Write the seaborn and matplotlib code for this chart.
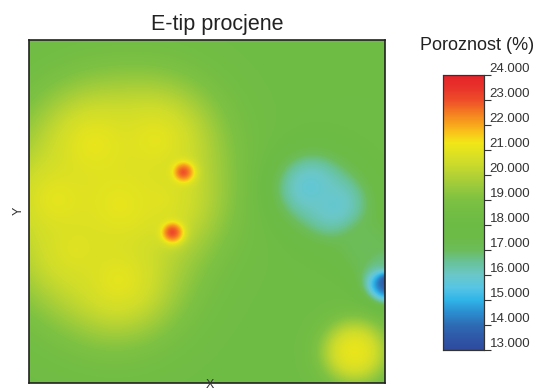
import numpy as np
import pandas as pd
import matplotlib
matplotlib.use("Agg")
import matplotlib.pyplot as plt
import seaborn as sns
from matplotlib.colors import LinearSegmentedColormap

# ---- data: sample wells (x, y in 0..100 map units), porosity %, influence range
well_x = [18.5, 35.4, 7.9, 25.6, 25.0, 12.9, 36.8,   # yellow cluster
          43.3, 40.2,                                # red highs
          79.2, 85.7, 94.4, 100.0,                   # cyan low + tail
          100.8,                                     # blue low at east edge
          91.6]                                      # SE high
well_y = [69.4, 70.8, 53.4, 51.9, 30.0, 38.8, 53.4,
          61.5, 44.0,
          57.1, 51.9, 40.2, 34.4,
          30.0,
          9.0]
well_por = [21.3, 21.2, 21.2, 21.3, 21.2, 21.0, 21.0,
            23.1, 23.2,
            15.7, 15.8, 17.0, 16.8,
            13.0,
            21.2]
well_range = [5.5, 5.5, 5.5, 5.5, 5.5, 5.5, 5.5,
              0.8, 0.8,
              2.8, 2.8, 2.0, 2.0,
              1.4,
              2.4]
background_por = 18.2
background_weight = 0.0125

cbar_ticks = list(range(13, 25))
cbar_labels = [f"{t:.3f}" for t in cbar_ticks]

cmap_levels = [13.0, 13.5, 14.0, 14.5, 15.0, 15.5, 16.0, 16.5, 17.0, 17.5, 18.0, 18.5,
               19.0, 19.5, 20.0, 20.5, 21.0, 21.3, 21.7, 22.0, 22.5, 23.0, 23.5, 24.0]
cmap_colors = ["#2e4a9e", "#2f58a8", "#2d6cb4", "#2b8ed0", "#30b4e8", "#56c6e4",
               "#6ac7c8", "#68c29a", "#6cbc5a", "#6cbb47", "#6cbb45", "#72bd44",
               "#7dc142", "#97c93c", "#b3d234", "#cedc2a", "#e4e31e", "#f2e617",
               "#f9c31a", "#f8a81c", "#f47c22", "#ee4d29", "#e8332a", "#e5232a"]

vmin, vmax = 13.0, 24.0

# ---- estimate grid (kernel-weighted blend of well values)
nx, ny = 356, 343
gx = np.linspace(0, 100, nx)
gy = np.linspace(100, 0, ny)
GX, GY = np.meshgrid(gx, gy)
num = np.full(GX.shape, background_weight * background_por)
den = np.full(GX.shape, background_weight)
for x, y, v, r in zip(well_x, well_y, well_por, well_range):
    d = np.sqrt((GX - x) ** 2 + (GY - y) ** 2)
    w = np.exp(-d / r) / r
    num += w * v
    den += w
Z = num / den
df = pd.DataFrame(Z, index=np.round(gy, 2), columns=np.round(gx, 2))

cmap = LinearSegmentedColormap.from_list(
    "por", [((l - vmin) / (vmax - vmin), c) for l, c in zip(cmap_levels, cmap_colors)], N=512)

# ---- figure
sns.set_style("white")
plt.rcParams["font.family"] = ["Liberation Sans", "DejaVu Sans"]

fig = plt.figure(figsize=(5.48, 3.90), dpi=100)
ax = fig.add_axes([29 / 548, 1 - 383 / 390, 356 / 548, 343 / 390])
cax = fig.add_axes([443 / 548, 1 - 350 / 390, 41 / 548, 275 / 390])

sns.heatmap(df, ax=ax, cbar_ax=cax, cmap=cmap, vmin=vmin, vmax=vmax,
            xticklabels=False, yticklabels=False, rasterized=True,
            cbar_kws={"ticks": cbar_ticks})
ax.set_xlabel("")
ax.set_ylabel("")
for s in ax.spines.values():
    s.set_visible(True)
    s.set_color("#222222")
    s.set_linewidth(1.2)

cax.set_yticks(cbar_ticks)
cax.set_yticklabels(cbar_labels)
cax.tick_params(axis="y", length=5, width=0.8, pad=-1, labelsize=9.5,
                labelcolor="#333333", color="#333333", direction="out")
for t in cax.get_yticklabels():
    t.set_verticalalignment("bottom")
for s in cax.spines.values():
    s.set_visible(True)
    s.set_color("#333333")
    s.set_linewidth(0.8)

fig.text(217 / 548, 1 - 30 / 390, "E-tip procjene", ha="center", va="baseline",
         fontsize=15.5, color="#222222")
fig.text(477 / 548, 1 - 50 / 390, "Poroznost (%)", ha="center", va="baseline",
         fontsize=13, color="#222222")
fig.text(19 / 548, 1 - 211 / 390, "Y", ha="center", va="center", rotation=90,
         fontsize=9, color="#333333")
fig.text(210 / 548, 1 - 379 / 390, "X", ha="center", va="top",
         fontsize=9, color="#333333")

fig.savefig("out.png", dpi=100)
